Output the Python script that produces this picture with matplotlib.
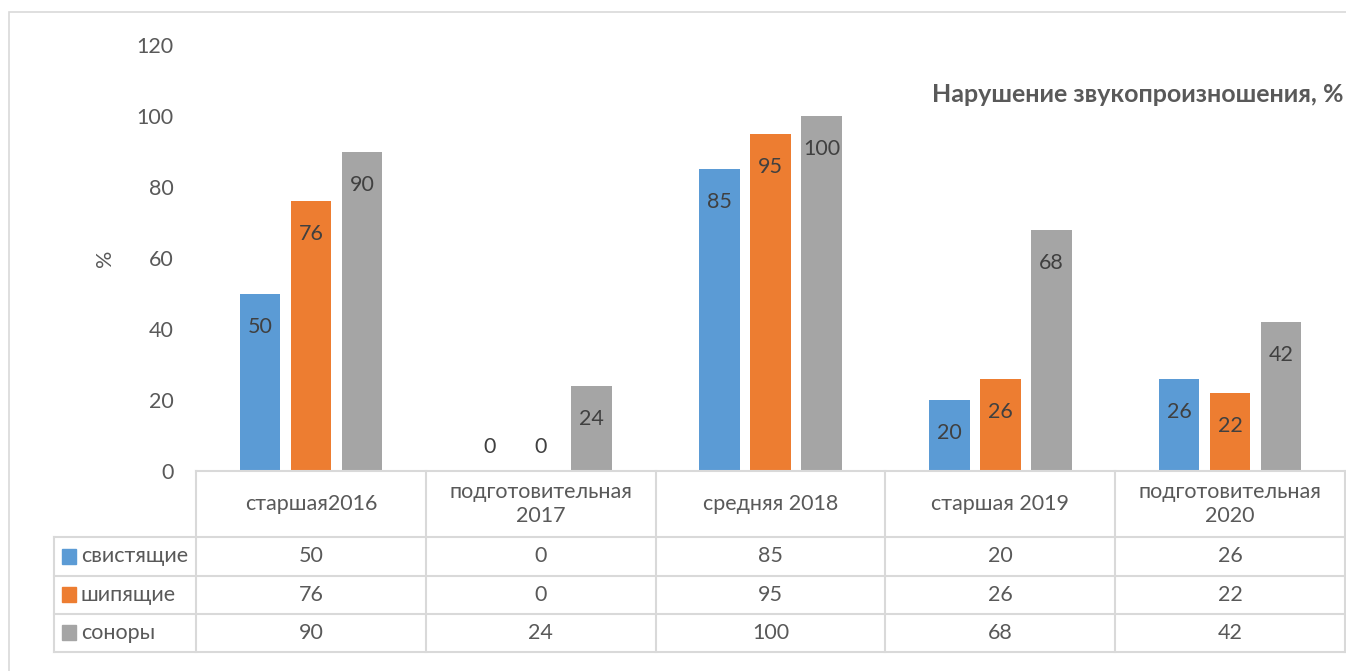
import numpy as np
import matplotlib
matplotlib.use("Agg")
import matplotlib.pyplot as plt
from matplotlib.patches import Rectangle

plt.rcParams['font.family'] = ['Lato', 'DejaVu Sans']

# data
groups = ["старшая2016", "подготовительная\n2017", "средняя 2018",
          "старшая 2019", "подготовительная\n2020"]
series_names = ["свистящие", "шипящие", "соноры"]
svist = [50, 0, 85, 20, 26]
ship = [76, 0, 95, 26, 22]
sonor = [90, 24, 100, 68, 42]
yticks = [0, 20, 40, 60, 80, 100, 120]
title = "Нарушение звукопроизношения, %"

colors = ["#5B9BD5", "#ED7D31", "#A5A5A5"]
txt = "#595959"
grid = "#D9D9D9"
fs = 15.5

W, H = 1346, 671
fig = plt.figure(figsize=(W / 100, H / 100), dpi=100)

def fx(px):
    return px / W

def fy(py):
    return 1 - py / H

# outer frame
fig.patches.append(Rectangle((fx(9), fy(700)), fx(1400), fy(12) - fy(700),
                             transform=fig.transFigure, fill=False,
                             edgecolor=grid, lw=1.2))

left, right, top, bottom = 196, 1345, 45, 471
ax = fig.add_axes([fx(left), fy(bottom), fx(right - left), fy(top) - fy(bottom)])
ax.set_xlim(-0.5, 4.5)
ax.set_ylim(0, 120)
for s in ax.spines.values():
    s.set_visible(False)
ax.set_xticks([])
ax.set_yticks(yticks)
ax.tick_params(axis='y', length=0, pad=16, labelsize=fs, labelcolor=txt)
ax.set_ylabel("%", color=txt, fontsize=fs)
ax.yaxis.set_label_coords((115 - left) / (right - left), 0.5)

x = np.arange(len(groups))
step = 0.222
bw = 0.176
for i, vals in enumerate([svist, ship, sonor]):
    xs = x + (i - 1) * step
    ax.bar(xs, vals, width=bw, color=colors[i], zorder=2)
    for xv, v in zip(xs, vals):
        yl = v + 6.8 if v == 0 else v - 9.3
        ax.text(xv, yl, str(v), ha='center', va='center',
                fontsize=fs, color="#404040")

ax.text(0.999, (bottom - 95) / (bottom - top), title, transform=ax.transAxes,
        ha='right', va='center', fontsize=18, fontweight='bold', color=txt)

# data table below the axes
tab = fig.add_axes([fx(left), fy(652), fx(right - left), fy(471) - fy(652)])
tab.set_xlim(-0.5, 4.5)
row_h = [66, 38, 38, 38]
edges = np.concatenate([[0], np.cumsum(row_h)])
tab.set_ylim(edges[-1], 0)
tab.axis('off')
col_px = (right - left) / 5
legend_left = -0.5 - (left - 54) / col_px

tab.plot([-0.5, 4.5], [0, 0], color=grid, lw=1.5, clip_on=False)
for e in edges[1:]:
    tab.plot([legend_left, 4.5], [e, e], color=grid, lw=1.5, clip_on=False)
for b in np.arange(-0.5, 5.0, 1.0):
    tab.plot([b, b], [0, edges[-1]], color=grid, lw=1.5, clip_on=False)
tab.plot([legend_left, legend_left], [edges[1], edges[-1]], color=grid, lw=1.5,
         clip_on=False)

for j, g in enumerate(groups):
    tab.text(j, edges[1] / 2, g, ha='center', va='center', fontsize=fs,
             color=txt, linespacing=1.25)

for i, (name, vals) in enumerate(zip(series_names, [svist, ship, sonor])):
    yc = (edges[i + 1] + edges[i + 2]) / 2
    tab.add_patch(Rectangle((legend_left + 8 / col_px, yc - 7.5), 14 / col_px, 15,
                            color=colors[i], clip_on=False))
    tab.text(legend_left + 27 / col_px, yc, name, ha='left', va='center',
             fontsize=fs, color=txt)
    for j, v in enumerate(vals):
        tab.text(j, yc, str(v), ha='center', va='center', fontsize=fs,
                 color=txt)

fig.savefig("out.png", dpi=100)
